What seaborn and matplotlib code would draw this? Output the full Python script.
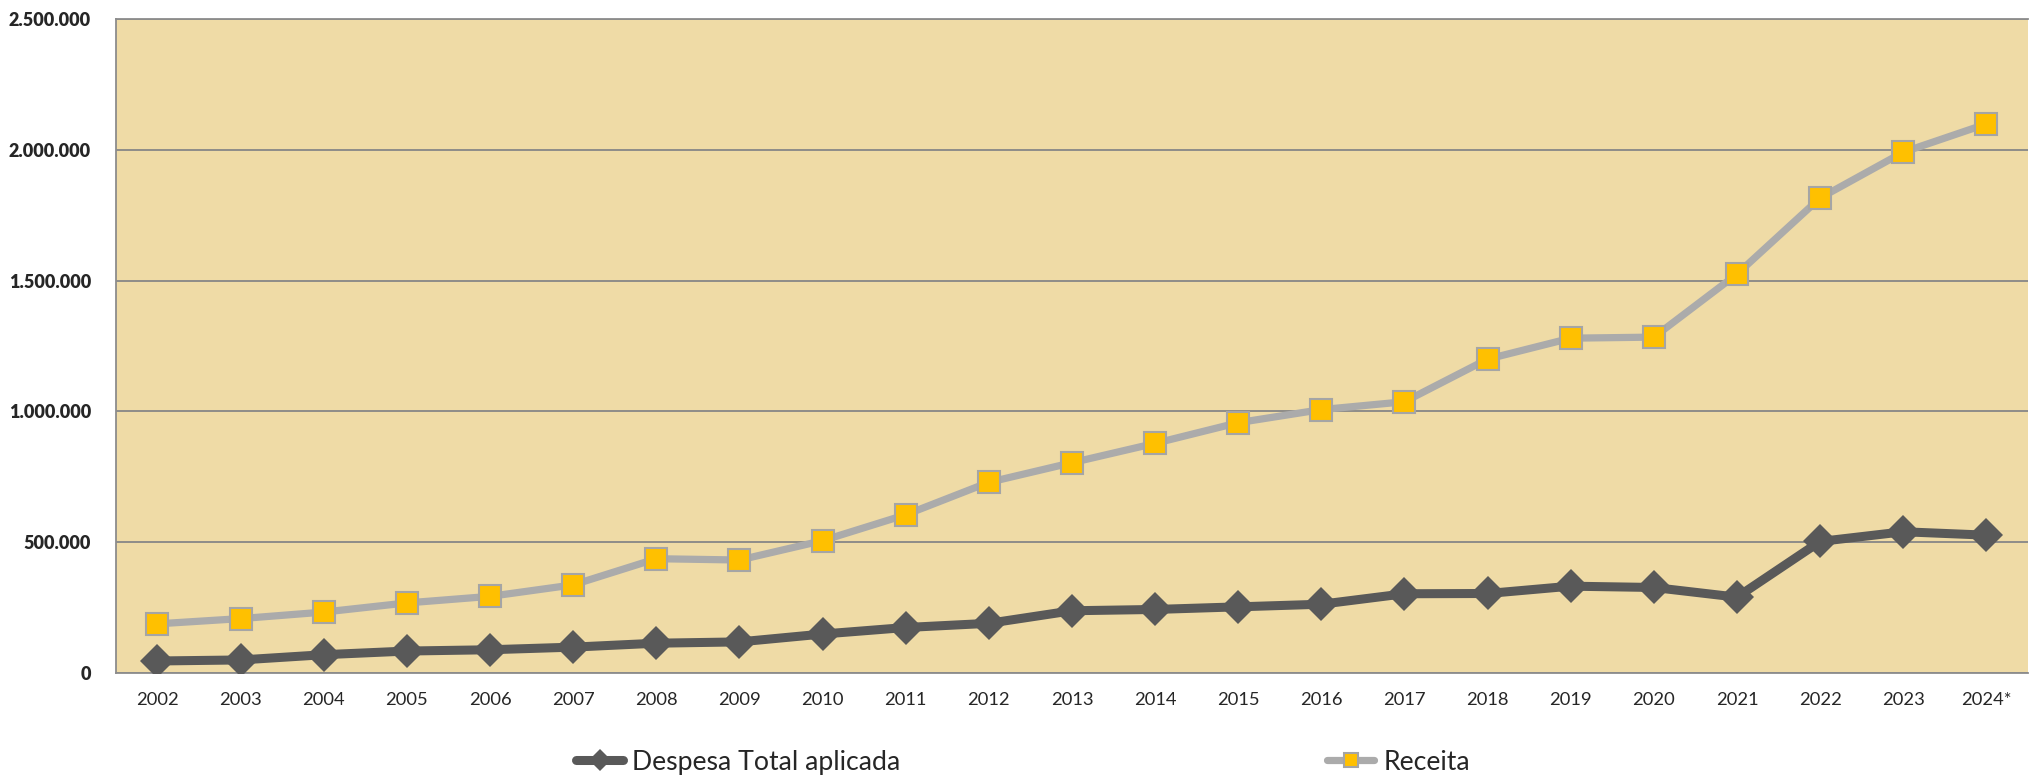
import numpy as np
import pandas as pd
import matplotlib
matplotlib.use('Agg')
import matplotlib.pyplot as plt
import seaborn as sns
from matplotlib.ticker import FuncFormatter

# Data
anos = ['2002', '2003', '2004', '2005', '2006', '2007', '2008', '2009', '2010',
        '2011', '2012', '2013', '2014', '2015', '2016', '2017', '2018', '2019',
        '2020', '2021', '2022', '2023', '2024*']
despesa = [46000, 50000, 70000, 84000, 89000, 99000, 114000, 119000, 149000,
           174000, 190000, 238000, 243000, 253000, 263000, 303000, 304000, 332000,
           327000, 290000, 503000, 540000, 527000]
receita = [188000, 208000, 233000, 268000, 293000, 337000, 437000, 432000, 506000,
           605000, 729000, 804000, 878000, 957000, 1007000, 1037000, 1200000, 1280000,
           1284000, 1525000, 1816000, 1991000, 2099000]

df = pd.DataFrame({'pos': np.arange(len(anos)), 'ano': anos,
                   'Despesa Total aplicada': despesa, 'Receita': receita})

sns.set_theme(style='white')
plt.rcParams['font.family'] = ['Lato', 'DejaVu Sans']

fig = plt.figure(figsize=(20.30, 7.76), dpi=100)
ax = fig.add_axes([0.0571, 0.1327, 0.9419, 0.8428])
ax.set_facecolor('#EFDBA6')

# Receita: light grey line, gold squares
sns.lineplot(data=df, x='pos', y='Receita', ax=ax, color='#ABABAB', linewidth=5.2,
             marker='s', markersize=16, markerfacecolor='#FFC000',
             markeredgecolor='#A5A5A5', markeredgewidth=1.5,
             label='Receita', zorder=4)

# Despesa: dark grey line, diamonds
sns.lineplot(data=df, x='pos', y='Despesa Total aplicada', ax=ax, color='#595959',
             linewidth=6.5, marker='D', markersize=17, markerfacecolor='#595959',
             markeredgecolor='#595959', markeredgewidth=0,
             label='Despesa Total aplicada', zorder=5)

ax.set_xlim(-0.5, len(anos) - 0.5)
ax.set_ylim(0, 2500000)
ax.set_yticks(np.arange(0, 2500001, 500000))
ax.yaxis.set_major_formatter(FuncFormatter(lambda v, p: f'{int(v):,}'.replace(',', '.')))
ax.set_xticks(df['pos'])
ax.set_xticklabels(anos)
ax.set_xlabel('')
ax.set_ylabel('')

ax.grid(axis='y', color='#868686', linewidth=1.3, zorder=1)
ax.set_axisbelow(True)
for s in ['left', 'top', 'bottom']:
    ax.spines[s].set_color('#8C8C8C')
    ax.spines[s].set_linewidth(1.3)
ax.spines['right'].set_visible(False)

ax.tick_params(axis='y', labelsize=13, pad=18, length=0)
ax.tick_params(axis='x', labelsize=13.2, pad=14, length=0)
for t in ax.get_yticklabels():
    t.set_fontweight('heavy')

# Legend below the plot, two entries far apart
handles, labels = ax.get_legend_handles_labels()
ax.get_legend().remove()
order = [1, 0]
leg = fig.legend([handles[i] for i in order], [labels[i] for i in order],
                 loc='center', bbox_to_anchor=(0.504, 0.018), ncol=2, frameon=False,
                 fontsize=19.2, columnspacing=16, handlelength=1.75,
                 handletextpad=0.35, markerscale=0.65)

fig.savefig('out.png', dpi=100)
